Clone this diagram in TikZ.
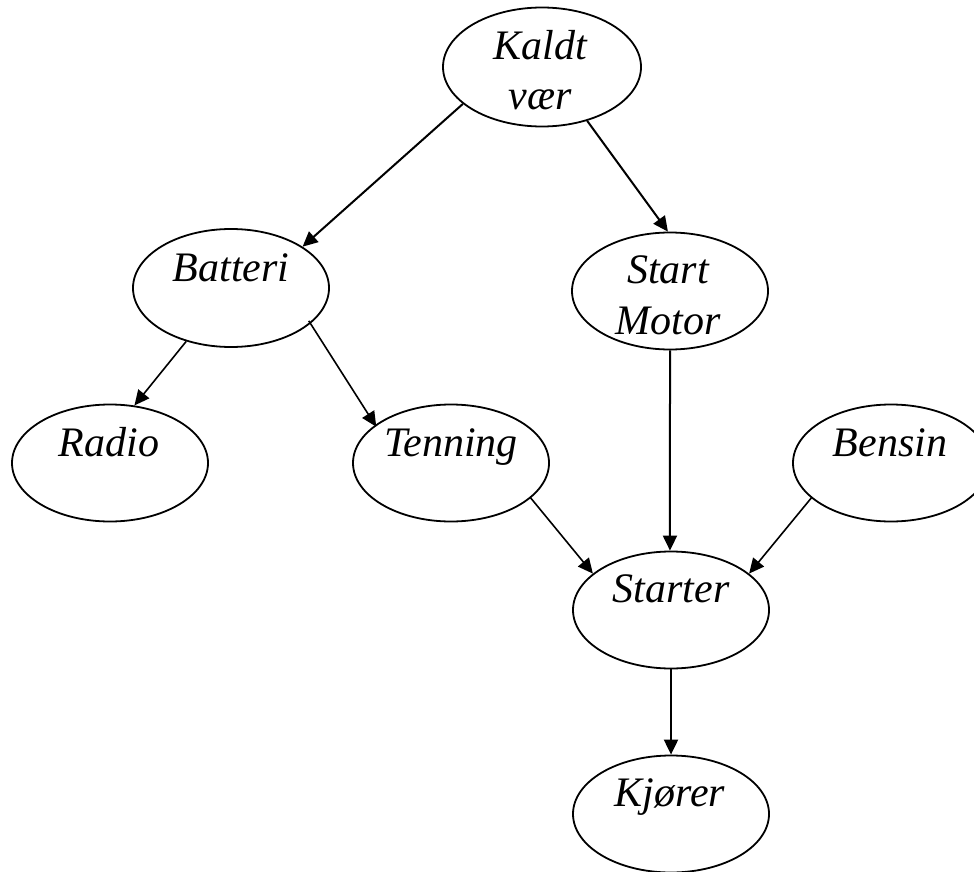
\documentclass[tikz,border=0pt]{standalone}
\usepackage{fontspec}
\setmainfont{Liberation Serif}
\usetikzlibrary{shapes.geometric,arrows.meta}
\begin{document}
\begin{tikzpicture}[x=1pt,y=-1pt,
  ell/.style={draw, ellipse, line width=1.8pt, inner sep=0pt, minimum width=196pt, minimum height=117pt},
  lbl/.style={anchor=base, inner sep=0pt, font=\fontsize{42}{50}\selectfont\itshape},
  arr/.style={line width=2pt, -{Triangle[length=15pt,width=14pt]}},
  arrthin/.style={line width=1.6pt, -{Triangle[length=15pt,width=14pt]}}]
\useasboundingbox (0,0) rectangle (974,872);
% nodes
\node[ell, minimum width=198pt, minimum height=119pt] (kv) at (542,67) {};
\node[lbl] (kvt1) at (540,60) {Kaldt};
\node[lbl] (kvt2) at (540,110) {vær};
\node[ell, minimum height=118pt] (bat) at (231,288) {};
\node[lbl] (batt) at (231,281) {Batteri};
\node[ell] (sm) at (670,291) {};
\node[lbl] (smt1) at (668,283) {Start};
\node[lbl] (smt2) at (668,334) {Motor};
\node[ell] (rad) at (110,463) {};
\node[lbl] (radt) at (109,456) {Radio};
\node[ell] (ten) at (451,463) {};
\node[lbl] (tent) at (451,456) {Tenning};
\node[ell] (ben) at (891,463) {};
\node[lbl] (bent) at (890,456) {Bensin};
\node[ell] (st) at (671,610) {};
\node[lbl] (stt) at (671,602) {Starter};
\node[ell] (kj) at (671,814) {};
\node[lbl] (kjt) at (670,806) {Kjører};
% edges
\draw[arr] (kv.205) -- (bat.30);
\draw[arr] (kv.-50) -- (sm.92);
\draw[arrthin] (bat.-130) -- (rad.67);
\draw[arrthin] ([shift={(-7pt,-2pt)}]bat.-20) -- ([shift={(6pt,2pt)}]ten.157);
\draw[arr] (sm.-90) -- (st.91);
\draw[arrthin] ([shift={(-3pt,-1pt)}]ten.-22) -- (st.155);
\draw[arrthin] ([shift={(3pt,-1pt)}]ben.-158) -- (st.25);
\draw[arr] (st.-90) -- (kj.90);
\end{tikzpicture}
\end{document}
